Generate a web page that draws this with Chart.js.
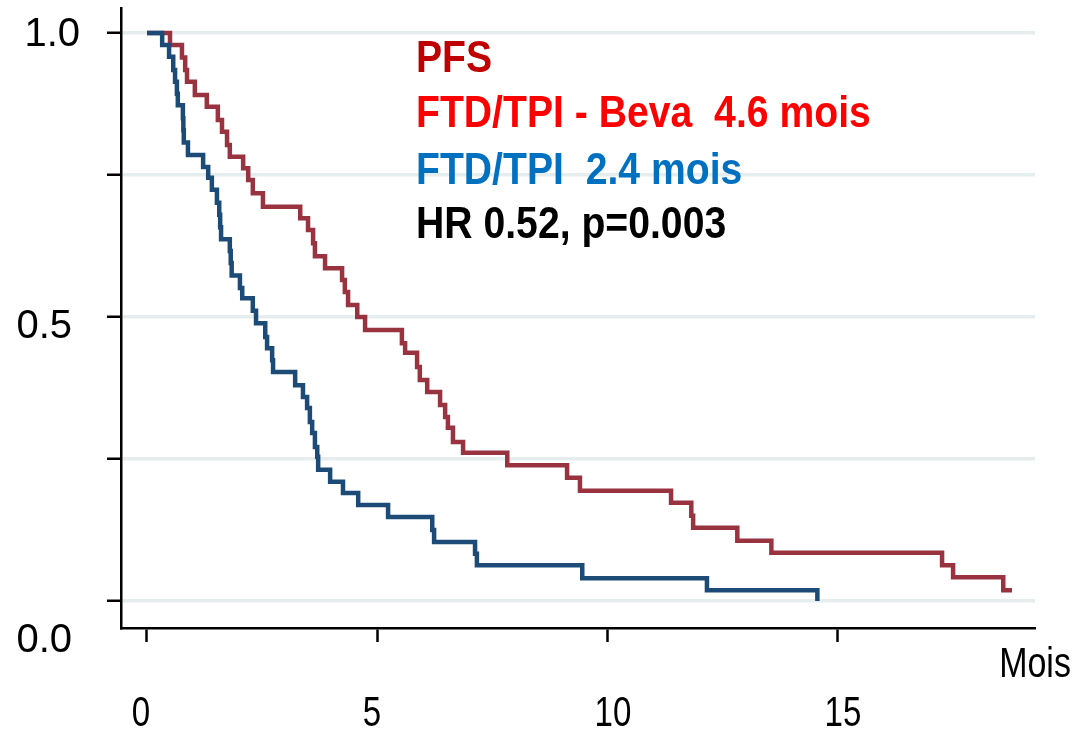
<!DOCTYPE html>
<html>
<head>
<meta charset="utf-8">
<script src="https://cdn.jsdelivr.net/npm/chart.js@4.4.1/dist/chart.umd.min.js"></script>
<style>
  html, body { margin: 0; padding: 0; background: #ffffff; }
  #wrap { width: 1074px; height: 729px; position: relative; }
</style>
</head>
<body>
<div id="wrap"><canvas id="c" width="1074" height="729"></canvas></div>
<script>
// ---- Data ----
const bevaTimes = [0, 0.50, 0.76, 0.83, 0.87, 1.04, 1.30, 1.54, 1.63, 1.74, 1.80, 2.09, 2.20, 2.30, 2.52,
  3.33, 3.50, 3.61, 3.65, 3.87, 4.24, 4.30, 4.37, 4.57, 4.74, 5.54, 5.61, 5.87, 5.93, 6.09, 6.37, 6.48,
  6.54, 6.65, 6.87, 7.83, 9.13, 9.41, 11.39, 11.83, 11.87, 12.83, 13.57, 17.28, 17.52, 18.61, 18.80];
const bevaSurv = [1.0, 0.979, 0.957, 0.935, 0.914, 0.891, 0.870, 0.847, 0.826, 0.803, 0.782, 0.762, 0.741, 0.718, 0.694,
  0.674, 0.653, 0.630, 0.607, 0.586, 0.565, 0.544, 0.521, 0.500, 0.477, 0.454, 0.437, 0.412, 0.389, 0.368, 0.345, 0.324,
  0.305, 0.280, 0.261, 0.239, 0.217, 0.194, 0.173, 0.150, 0.129, 0.106, 0.085, 0.063, 0.042, 0.019, 0.019];

const ftdTimes = [0, 0.33, 0.48, 0.57, 0.61, 0.65, 0.67, 0.78, 0.79, 0.80, 0.89, 1.22, 1.33, 1.41, 1.52,
  1.57, 1.59, 1.61, 1.80, 1.82, 1.84, 2.02, 2.07, 2.30, 2.37, 2.57, 2.61, 2.72, 2.74, 3.22, 3.39, 3.48,
  3.54, 3.59, 3.65, 3.70, 3.72, 3.98, 4.26, 4.59, 5.24, 6.20, 6.24, 7.13, 7.17, 9.46, 12.17, 14.57];
const ftdSurv = [1.0, 0.979, 0.958, 0.935, 0.914, 0.893, 0.873, 0.850, 0.829, 0.807, 0.785, 0.764, 0.745, 0.724, 0.701,
  0.680, 0.658, 0.637, 0.616, 0.595, 0.573, 0.551, 0.533, 0.511, 0.489, 0.465, 0.445, 0.424, 0.403, 0.380, 0.359, 0.340,
  0.315, 0.296, 0.271, 0.254, 0.231, 0.210, 0.190, 0.169, 0.148, 0.125, 0.104, 0.083, 0.063, 0.040, 0.019, 0.0];

const xTickValues = [0, 5, 10, 15];
const xTickLabels = ['0', '5', '10', '15'];
const yTickValues = [0, 0.25, 0.5, 0.75, 1.0];
const yLabelValues = [1.0, 0.5, 0.0];
const yTickLabels = ['1.0', '0.5', '0.0'];
const xAxisTitle = 'Mois';
const annotationLines = ['PFS', 'FTD/TPI - Beva  4.6 mois', 'FTD/TPI  2.4 mois', 'HR 0.52, p=0.003'];

// ---- Layout / style (kept apart from data) ----
const annotationColors = ['#c00000', '#ff0000', '#0070c0', '#000000'];
const annotationBaselines = [72, 127, 184, 238];
const annotationX = 416;
const xLabelPos = [{x: 141, y: 714}, {x: 372, y: 714}, {x: 613, y: 714}, {x: 843, y: 714}];
const yLabelPos = [{x: 80, y: 35}, {x: 72, y: 327}, {x: 72, y: 641}];

function pts(t, s) { return t.map((v, i) => ({x: v, y: s[i]})); }

function drawText(ctx, txt, x, y, font, color, align, baseline, sx) {
  ctx.save();
  ctx.font = font;
  ctx.fillStyle = color;
  ctx.textAlign = align;
  ctx.textBaseline = baseline;
  ctx.translate(x, y);
  ctx.scale(sx, 1);
  ctx.fillText(txt, 0, 0);
  ctx.restore();
}

const textPlugin = {
  id: 'textPlugin',
  afterDraw(chart) {
    const ctx = chart.ctx;
    yTickLabels.forEach((t, i) => {
      drawText(ctx, t, yLabelPos[i].x, yLabelPos[i].y, '40px "Liberation Sans", Arial, sans-serif', '#000', 'right', 'middle', 1);
    });
    xTickLabels.forEach((t, i) => {
      drawText(ctx, t, xLabelPos[i].x, xLabelPos[i].y, '43px "Liberation Sans", Arial, sans-serif', '#000', 'center', 'middle', 0.77);
    });
    drawText(ctx, xAxisTitle, 1035, 665, '43px "Liberation Sans", Arial, sans-serif', '#000', 'center', 'middle', 0.79);
    annotationLines.forEach((t, i) => {
      drawText(ctx, t, annotationX, annotationBaselines[i], 'bold 44px "Liberation Sans", Arial, sans-serif', annotationColors[i], 'left', 'alphabetic', 0.89);
    });
  }
};

new Chart(document.getElementById('c'), {
  type: 'line',
  data: {
    datasets: [
      { label: 'FTD/TPI', data: pts(ftdTimes, ftdSurv), borderColor: '#1d4b77', borderWidth: 4.5,
        stepped: 'before', pointRadius: 0, fill: false, tension: 0 },
      { label: 'FTD/TPI - Beva', data: pts(bevaTimes, bevaSurv), borderColor: '#993340', borderWidth: 4.5,
        stepped: 'before', pointRadius: 0, fill: false, tension: 0 }
    ]
  },
  options: {
    responsive: false,
    animation: false,
    layout: { padding: { left: 107, right: 39, top: 8, bottom: 87 } },
    plugins: { legend: { display: false }, tooltip: { enabled: false } },
    scales: {
      x: {
        type: 'linear',
        min: -0.565, max: 19.30,
        afterBuildTicks: (s) => { s.ticks = xTickValues.map(v => ({value: v})); },
        ticks: { display: false },
        grid: { drawOnChartArea: false, drawTicks: true, tickLength: 14, tickColor: '#000', tickWidth: 2.5 },
        border: { display: true, color: '#000', width: 2.5 }
      },
      y: {
        type: 'linear',
        min: -0.0475, max: 1.044,
        afterBuildTicks: (s) => { s.ticks = yTickValues.map(v => ({value: v})); },
        ticks: { display: false },
        grid: { drawOnChartArea: true, color: '#e6edef', lineWidth: 3.5, drawTicks: true, tickLength: 14, tickColor: '#000', tickWidth: 2.5 },
        border: { display: true, color: '#000', width: 2.5 }
      }
    }
  },
  plugins: [textPlugin]
});
</script>
</body>
</html>
